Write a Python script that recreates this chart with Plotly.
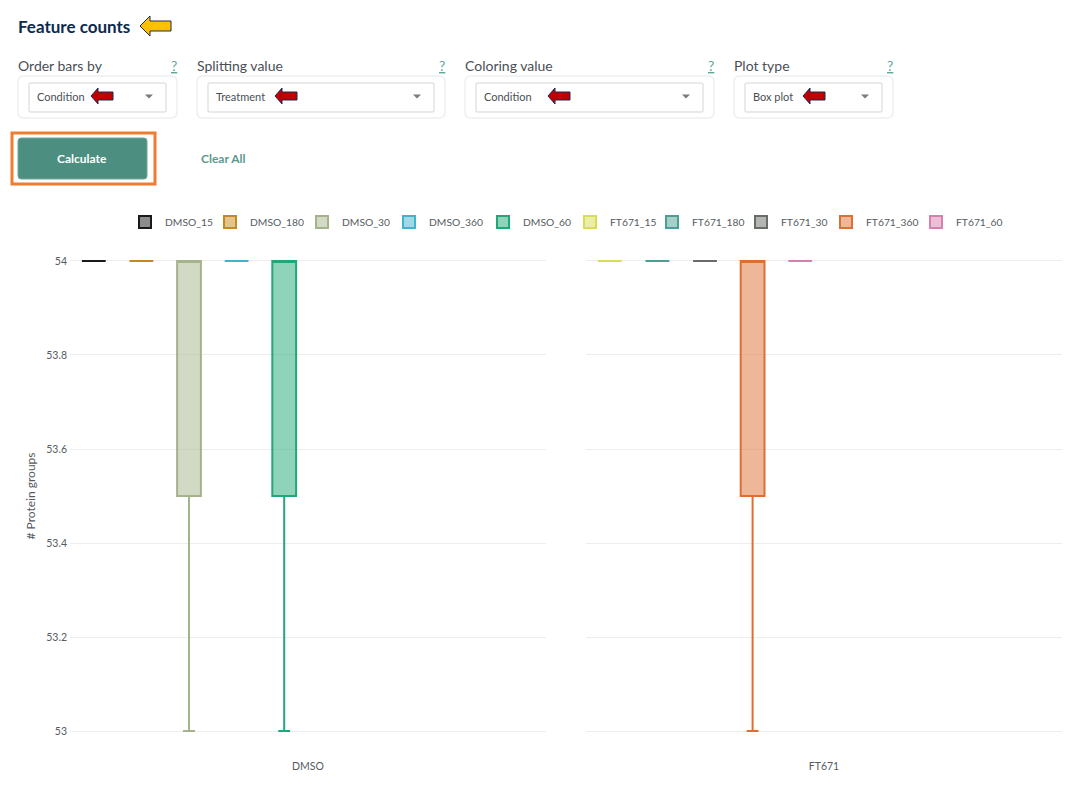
import plotly.graph_objects as go

FONT = "Lato"
W, H = 1082, 788

DMSO_CONDITIONS = ["DMSO_15", "DMSO_180", "DMSO_30", "DMSO_360", "DMSO_60"]
DMSO_COUNTS = [[54, 54, 54], [54, 54, 54], [53, 54, 54], [54, 54, 54], [53, 54, 54]]
DMSO_COLORS = ["#1a1a1a", "#c8891c", "#a5b38b", "#3fb4cd", "#22a878"]

FT671_CONDITIONS = ["FT671_15", "FT671_180", "FT671_30", "FT671_360", "FT671_60"]
FT671_COUNTS = [[54, 54, 54], [54, 54, 54], [54, 54, 54], [53, 54, 54], [54, 54, 54]]
FT671_COLORS = ["#d8de4e", "#4b9f92", "#686e67", "#dd6f33", "#d97fb0"]

# left edge of each legend swatch in the page
LEGEND_LEFT = [140, 225, 317, 404, 498, 585, 667, 756, 841, 931]

DROPDOWNS = [
    ("Order bars by", "Condition", 18, 177, 91),
    ("Splitting value", "Treatment", 197, 445, 275),
    ("Coloring value", "Condition", 465, 714, 548),
    ("Plot type", "Box plot", 734, 893, 803),
]


def px(x):
    return x / W


def py(y):
    return 1 - y / H


def rounded(x0, y0, x1, y1, r, fill, line_color, line_width):
    p = lambda x, y: f"{px(x)},{py(y)}"
    path = (
        f"M {p(x0 + r, y0)} L {p(x1 - r, y0)} Q {p(x1, y0)} {p(x1, y0 + r)} "
        f"L {p(x1, y1 - r)} Q {p(x1, y1)} {p(x1 - r, y1)} "
        f"L {p(x0 + r, y1)} Q {p(x0, y1)} {p(x0, y1 - r)} "
        f"L {p(x0, y0 + r)} Q {p(x0, y0)} {p(x0 + r, y0)} Z"
    )
    return dict(type="path", xref="paper", yref="paper", path=path, fillcolor=fill,
                line=dict(color=line_color, width=line_width))


def poly(points, fill, line_color=None, line_width=0):
    path = "M " + " L ".join(f"{px(x)},{py(y)}" for x, y in points) + " Z"
    return dict(type="path", xref="paper", yref="paper", path=path, fillcolor=fill,
                line=dict(color=line_color or fill, width=line_width))


def arrow(x0, x1, yc, half, shaft, head, fill):
    return poly([(x0, yc), (x0 + head, yc - half), (x0 + head, yc - shaft), (x1, yc - shaft),
                 (x1, yc + shaft), (x0 + head, yc + shaft), (x0 + head, yc + half)],
                fill, "#1f2a55", 1)


def label(x, y, text, size=12, color="#4a4f55", anchor="left", bold=False):
    if bold:
        text = f"<b>{text}</b>"
    return dict(xref="paper", yref="paper", x=px(x), y=py(y), text=text, showarrow=False,
                xanchor=anchor, yanchor="middle", font=dict(family=FONT, size=size, color=color))


fig = go.Figure()

legend_index = 0
legends = {}
for names, counts, colors, panel, axis in [
    (DMSO_CONDITIONS, DMSO_COUNTS, DMSO_COLORS, "DMSO", "x"),
    (FT671_CONDITIONS, FT671_COUNTS, FT671_COLORS, "FT671", "x2"),
]:
    for name, y, color in zip(names, counts, colors):
        key = "legend" if legend_index == 0 else f"legend{legend_index + 1}"
        fig.add_trace(go.Box(
            name=name, x=[panel] * len(y), y=y, xaxis=axis, yaxis="y", legend=key,
            boxpoints=False, quartilemethod="inclusive",
            line=dict(color=color, width=2), alignmentgroup="True", offsetgroup=name,
        ))
        legends[key] = dict(
            x=px(LEGEND_LEFT[legend_index] - 15), xanchor="left", y=py(222), yanchor="middle",
            font=dict(family=FONT, size=10.3, color="#555b61"), itemclick=False,
            bgcolor="rgba(0,0,0,0)",
        )
        legend_index += 1
    # the other half of the ten slots stays empty in this panel
    for k in range(5):
        fig.add_trace(go.Box(
            name=f"empty_{k}", x=[panel], y=[None], xaxis=axis, yaxis="y", showlegend=False,
            alignmentgroup="True", offsetgroup=f"empty_{k}",
        ))

shapes = []
annotations = [label(16, 26, "Feature counts", 17, "#0c2a4d", bold=True)]
shapes.append(arrow(140, 171, 26, 10, 5, 10, "#ffc000"))

for title, value, x0, x1, arrow_x in DROPDOWNS:
    annotations.append(label(x0 - 2, 65, title, 14))
    annotations.append(label(x1 + 2, 65, "<u>?</u>", 14, "#5fa598", anchor="right"))
    annotations.append(label(x0 + 17, 97, value, 11))
    shapes.append(rounded(x0, 76, x1, 118, 6, "white", "#eeeff2", 1.5))
    shapes.append(rounded(x0 + 11, 83, x1 - 11, 112, 2, "white", "#e2e3e6", 1.5))
    shapes.append(arrow(arrow_x, arrow_x + 22, 96, 8, 4, 7, "#c00000"))
    shapes.append(poly([(x1 - 32, 94.5), (x1 - 24, 94.5), (x1 - 28, 98.5)], "#7a7a7a"))

shapes.append(rounded(12, 133, 155, 184, 0, "white", "#ed7d31", 3))
shapes.append(rounded(18, 138, 147, 179, 3, "#4c8e80", "#6fa89c", 1))
annotations.append(label(82, 158, "Calculate", 12, "white", anchor="center", bold=True))
annotations.append(label(223, 158, "Clear All", 12, "#5a9a8c", anchor="center", bold=True))

xaxis_style = dict(showgrid=False, zeroline=False, showline=False, ticks="", anchor="y",
                   ticklabelstandoff=26, automargin=False,
                   tickfont=dict(family=FONT, size=10.5, color="#555b61"))

fig.update_layout(
    width=W, height=H,
    margin=dict(l=0, r=0, t=0, b=0, autoexpand=False),
    paper_bgcolor="white", plot_bgcolor="white",
    boxmode="group", boxgap=0, boxgroupgap=0.5,
    xaxis=dict(domain=[px(70), px(546)], **xaxis_style),
    xaxis2=dict(domain=[px(586), px(1062)], **xaxis_style),
    yaxis=dict(
        domain=[py(732.2), py(259.8)], range=[52.9975, 54.0025], tick0=53, dtick=0.2,
        gridcolor="#eeeeee", gridwidth=1, zeroline=False, showline=False, automargin=False,
        ticklabelstandoff=2,
        tickfont=dict(family=FONT, size=10.5, color="#555b61"),
        title=dict(text="# Protein groups", font=dict(family=FONT, size=12, color="#555b61"), standoff=8),
    ),
    shapes=shapes,
    annotations=annotations,
    **legends,
)

fig.write_html("out.html", config={"displayModeBar": False},
               post_script="document.body.style.margin='0';")
